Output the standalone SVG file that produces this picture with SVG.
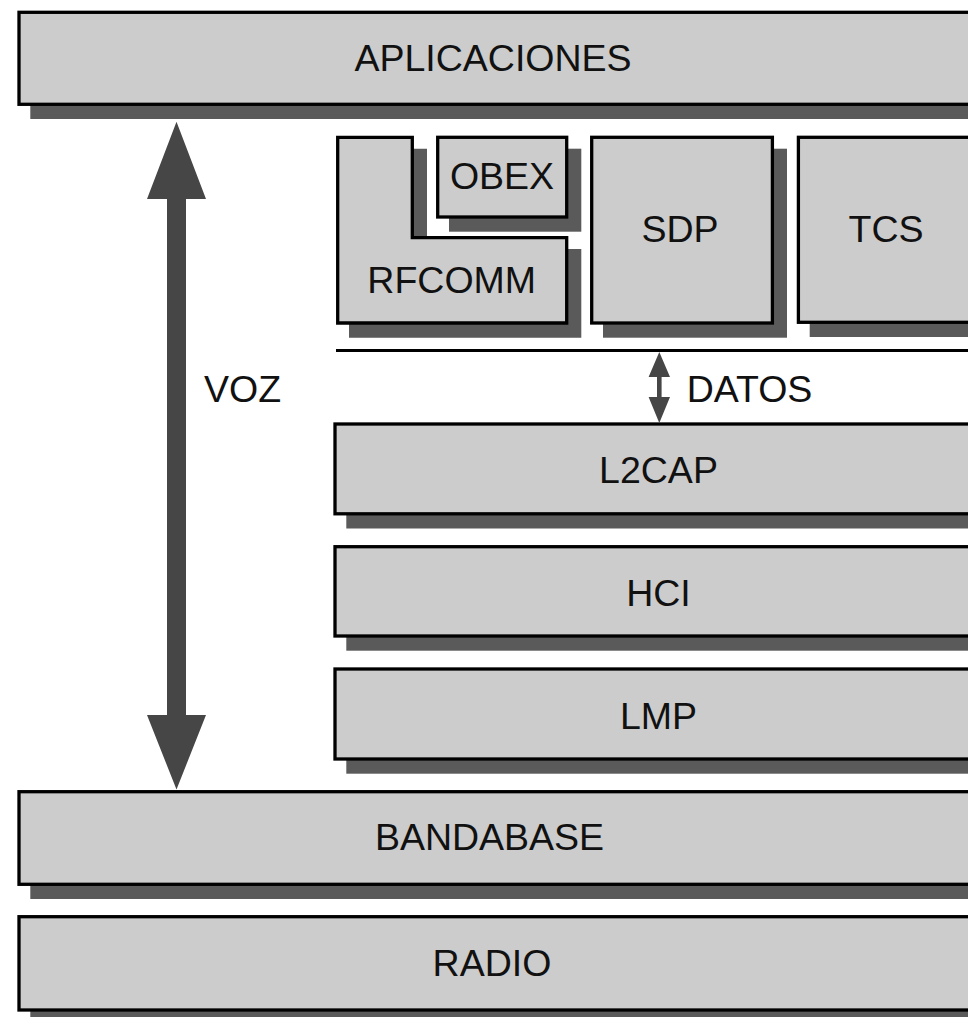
<svg xmlns="http://www.w3.org/2000/svg" width="968" height="1017" viewBox="0 0 968 1017">
<style>
.sh{fill:#5a5a5a}
.bx{fill:#cccccc;stroke:#000;stroke-width:3.3}
.t{font-family:"Liberation Sans",Arial,sans-serif;font-size:37.5px;fill:#111;text-anchor:middle}
.ar{fill:#464646}
</style>
<rect width="968" height="1017" fill="#fff"/>
<g id="aplicaciones">
<rect class="sh" x="30.3" y="23.7" width="960" height="95.3"/>
<rect class="bx" x="19" y="12.3" width="960" height="92"/>
<text class="t" x="493" y="70.7">APLICACIONES</text>
</g>
<g id="rfcomm">
<path class="sh" d="M349,148.7 H427 V249 H581.3 V337.7 H349 Z"/>
<path class="bx" d="M337.7,137.3 H412.3 V237.7 H566.7 V323 H337.7 Z"/>
<text class="t" x="451.7" y="292.7">RFCOMM</text>
</g>
<g id="obex">
<rect class="sh" x="449" y="148.7" width="132.3" height="83"/>
<rect class="bx" x="437.7" y="137.3" width="129" height="79.7"/>
<text class="t" x="502" y="189">OBEX</text>
</g>
<g id="sdp">
<rect class="sh" x="603" y="148.7" width="184" height="189"/>
<rect class="bx" x="591.7" y="137.3" width="180.7" height="185.7"/>
<text class="t" x="680" y="241.7">SDP</text>
</g>
<g id="tcs">
<rect class="sh" x="809.7" y="148.7" width="200" height="188.3"/>
<rect class="bx" x="798.4" y="137.3" width="200" height="185"/>
<text class="t" x="886" y="241.7">TCS</text>
</g>
<g id="l2cap">
<rect class="sh" x="346.3" y="435.3" width="660" height="93.2"/>
<rect class="bx" x="335" y="424" width="660" height="89.8"/>
<text class="t" x="658.5" y="483.3">L2CAP</text>
</g>
<g id="hci">
<rect class="sh" x="346.3" y="558" width="660" height="92.7"/>
<rect class="bx" x="335" y="546.7" width="660" height="89.3"/>
<text class="t" x="658.5" y="606">HCI</text>
</g>
<g id="lmp">
<rect class="sh" x="346.3" y="680.3" width="660" height="93.4"/>
<rect class="bx" x="335" y="669" width="660" height="90"/>
<text class="t" x="658.5" y="728.5">LMP</text>
</g>
<g id="bandabase">
<rect class="sh" x="30.3" y="803" width="960" height="96"/>
<rect class="bx" x="19" y="791.7" width="960" height="92.6"/>
<text class="t" x="489.5" y="850">BANDABASE</text>
</g>
<g id="radio">
<rect class="sh" x="30.3" y="928" width="960" height="97"/>
<rect class="bx" x="19" y="916.7" width="960" height="93.3"/>
<text class="t" x="492" y="976">RADIO</text>
</g>
<g id="connectors">
<line x1="336" y1="350.5" x2="968" y2="350.5" stroke="#000" stroke-width="3"/>
<polygon class="ar" points="176.5,121.7 206,199 186,199 186,715 206,715 176.5,789.5 147,715 167,715 167,199 147,199"/>
<text class="t" x="242.5" y="401.7">VOZ</text>
<polygon class="ar" points="659.3,352 670,377 661.6,377 661.6,397 670,397 659.3,423 648.6,397 657,397 657,377 648.6,377"/>
<text class="t" x="749.5" y="402.3">DATOS</text>
</g>
</svg>
